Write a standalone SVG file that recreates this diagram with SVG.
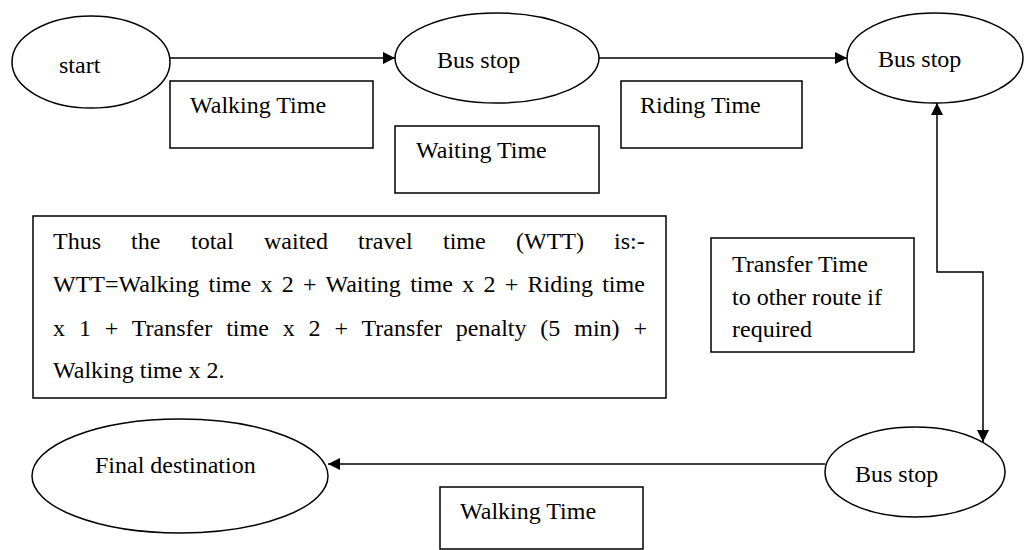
<svg xmlns="http://www.w3.org/2000/svg" width="1024" height="550" viewBox="0 0 1024 550">
<style>
.n{fill:#fff;stroke:#000;stroke-width:1.5}
.t{font-size:24px;fill:#000}
.c{fill:none;stroke:#000;stroke-width:1.5}
</style>
<defs>
<marker id="ah" viewBox="0 0 12 12" refX="12" refY="6" markerWidth="12" markerHeight="12" markerUnits="userSpaceOnUse" orient="auto-start-reverse">
<path d="M0,0 L12,6 L0,12 Z" fill="#000"/>
</marker>
</defs>
<rect width="1024" height="550" fill="#fff"/>
<g id="connectors">
<line class="c" x1="170" y1="58" x2="395" y2="58" marker-end="url(#ah)"/>
<line class="c" x1="599" y1="58" x2="847" y2="58" marker-end="url(#ah)"/>
<polyline class="c" points="937,103 937,272 983,272 983,442" marker-start="url(#ah)" marker-end="url(#ah)"/>
<line class="c" x1="825" y1="464" x2="328" y2="464" marker-end="url(#ah)"/>
</g>
<g font-family="Liberation Serif" font-size="24">
<g id="start"><ellipse class="n" cx="91" cy="62" rx="79" ry="46"/><text class="t" font-family="Liberation Serif" x="59" y="73">start</text></g>
<g id="busstop1"><ellipse class="n" cx="497" cy="58" rx="102" ry="45"/><text class="t" font-family="Liberation Serif" x="437" y="68">Bus stop</text></g>
<g id="busstop2"><ellipse class="n" cx="935" cy="58" rx="88" ry="45"/><text class="t" font-family="Liberation Serif" x="878" y="67">Bus stop</text></g>
<g id="busstop3"><ellipse class="n" cx="915" cy="472" rx="90" ry="45"/><text class="t" font-family="Liberation Serif" x="855" y="482">Bus stop</text></g>
<g id="finaldest"><ellipse class="n" cx="180" cy="476" rx="148" ry="57"/><text class="t" font-family="Liberation Serif" x="95" y="473">Final destination</text></g>
<g id="walking1"><rect class="n" x="170" y="81" width="203" height="67"/><text class="t" font-family="Liberation Serif" x="190" y="113">Walking Time</text></g>
<g id="riding"><rect class="n" x="621" y="81" width="181" height="67"/><text class="t" font-family="Liberation Serif" x="640" y="113">Riding Time</text></g>
<g id="waiting"><rect class="n" x="395" y="126" width="204" height="67"/><text class="t" font-family="Liberation Serif" x="416" y="158">Waiting Time</text></g>
<g id="transfer"><rect class="n" x="711" y="238" width="203" height="114"/>
<text class="t" font-family="Liberation Serif" x="732" y="272">Transfer Time</text>
<text class="t" font-family="Liberation Serif" x="732" y="305">to other route if</text>
<text class="t" font-family="Liberation Serif" x="732" y="337">required</text></g>
<g id="formula"><rect class="n" x="33" y="216" width="633" height="182"/>
<text class="t" font-family="Liberation Serif" y="249"><tspan x="53">Thus</tspan><tspan x="131">the</tspan><tspan x="191">total</tspan><tspan x="264">waited</tspan><tspan x="358">travel</tspan><tspan x="443">time</tspan><tspan x="516">(WTT)</tspan><tspan x="614">is:-</tspan></text>
<text class="t" font-family="Liberation Serif" x="53" y="292" word-spacing="3.3">WTT=Walking time x 2 + Waiting time x 2 + Riding time</text>
<text class="t" font-family="Liberation Serif" x="53" y="336" word-spacing="7.9">x 1 + Transfer time x 2 + Transfer penalty (5 min) +</text>
<text class="t" font-family="Liberation Serif" x="53" y="378">Walking time x 2.</text></g>
<g id="walking2"><rect class="n" x="440" y="487" width="203" height="62"/><text class="t" font-family="Liberation Serif" x="460" y="519">Walking Time</text></g>
</g>
</svg>
